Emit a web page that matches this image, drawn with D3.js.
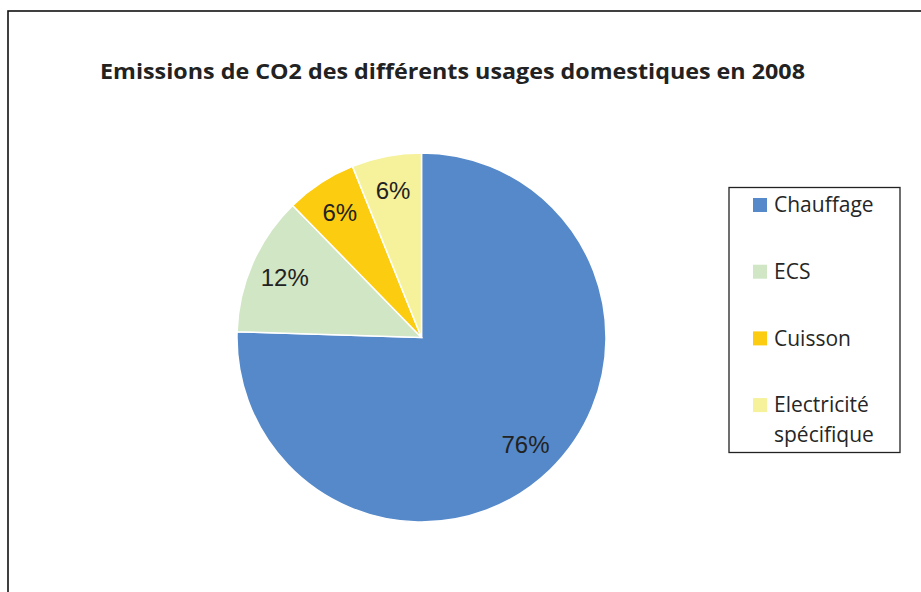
<!DOCTYPE html>
<html>
<head>
<meta charset="utf-8">
<script src="https://cdn.jsdelivr.net/npm/d3@7"></script>
<style>
  body { margin: 0; background: #fff; }
  svg { display: block; }
</style>
</head>
<body>
<svg id="chart"></svg>
<script>
// data: slice sizes from the angles, labels as printed
var categories = ['Chauffage', 'ECS', 'Cuisson', 'Electricité spécifique'];
var values = [75.5, 12.2, 6.2, 6.1];
var percentLabels = ['76%', '12%', '6%', '6%'];
var legendLines = [['Chauffage'], ['ECS'], ['Cuisson'], ['Electricité', 'spécifique']];
var colors = ['#5589c9', '#d0e6c4', '#fccc10', '#f6f19b'];
var title = 'Emissions de CO2 des différents usages domestiques en 2008';

var w = 921, h = 592;
var cx = 421.5, cy = 337.5, r = 184.5;

var svg = d3.select('#chart')
  .attr('width', w)
  .attr('height', h);

// outer frame (only top and left visible)
svg.append('rect')
  .attr('x', 8).attr('y', 11)
  .attr('width', 1000).attr('height', 1000)
  .attr('fill', 'none')
  .attr('stroke', '#111')
  .attr('stroke-width', 1.6);

svg.append('text')
  .attr('x', 100).attr('y', 79)
  .attr('font-family', 'Open Sans')
  .attr('font-weight', 'bold')
  .attr('font-size', 20.5)
  .attr('textLength', 705)
  .attr('lengthAdjust', 'spacingAndGlyphs')
  .attr('fill', '#222')
  .text(title);

var data = categories.map(function(c, i) {
  return {name: c, value: values[i], label: percentLabels[i], color: colors[i]};
});

var pie = d3.pie()
  .sort(null)
  .value(function(d) { return d.value; });

var arc = d3.arc().innerRadius(0).outerRadius(r);
var labelArc = d3.arc().innerRadius(r * 0.81).outerRadius(r * 0.81);

var gPie = svg.append('g')
  .attr('transform', 'translate(' + cx + ',' + cy + ')');

gPie.selectAll('path')
  .data(pie(data))
  .enter()
  .append('path')
  .attr('d', arc)
  .attr('fill', function(d) { return d.data.color; })
  .attr('stroke', '#fff')
  .attr('stroke-width', 1.5);

gPie.selectAll('text')
  .data(pie(data))
  .enter()
  .append('text')
  .attr('transform', function(d) { return 'translate(' + labelArc.centroid(d) + ')'; })
  .attr('text-anchor', 'middle')
  .attr('dy', '0.35em')
  .attr('font-family', 'Liberation Sans, Arial, sans-serif')
  .attr('font-size', 24)
  .attr('fill', '#222')
  .text(function(d) { return d.data.label; });

// legend
var lg = svg.append('g');
lg.append('rect')
  .attr('x', 729).attr('y', 187.5)
  .attr('width', 171).attr('height', 265)
  .attr('fill', '#fff')
  .attr('stroke', '#222')
  .attr('stroke-width', 1.3);

var item = lg.selectAll('g.item')
  .data(data)
  .enter()
  .append('g')
  .attr('class', 'item')
  .attr('transform', function(d, i) { return 'translate(753,' + (205 + i * 66.7) + ')'; });

item.append('rect')
  .attr('x', 0).attr('y', -7)
  .attr('width', 14).attr('height', 14)
  .attr('fill', function(d) { return d.color; });

item.each(function(d, i) {
  var t = d3.select(this).append('text')
    .attr('x', 21)
    .attr('font-family', 'Open Sans')
    .attr('font-size', 21)
    .attr('fill', '#262626');
  legendLines[i].forEach(function(line, j) {
    t.append('tspan')
      .attr('x', 21)
      .attr('y', j * 30)
      .attr('dy', '0.35em')
      .text(line);
  });
});
</script>
</body>
</html>
